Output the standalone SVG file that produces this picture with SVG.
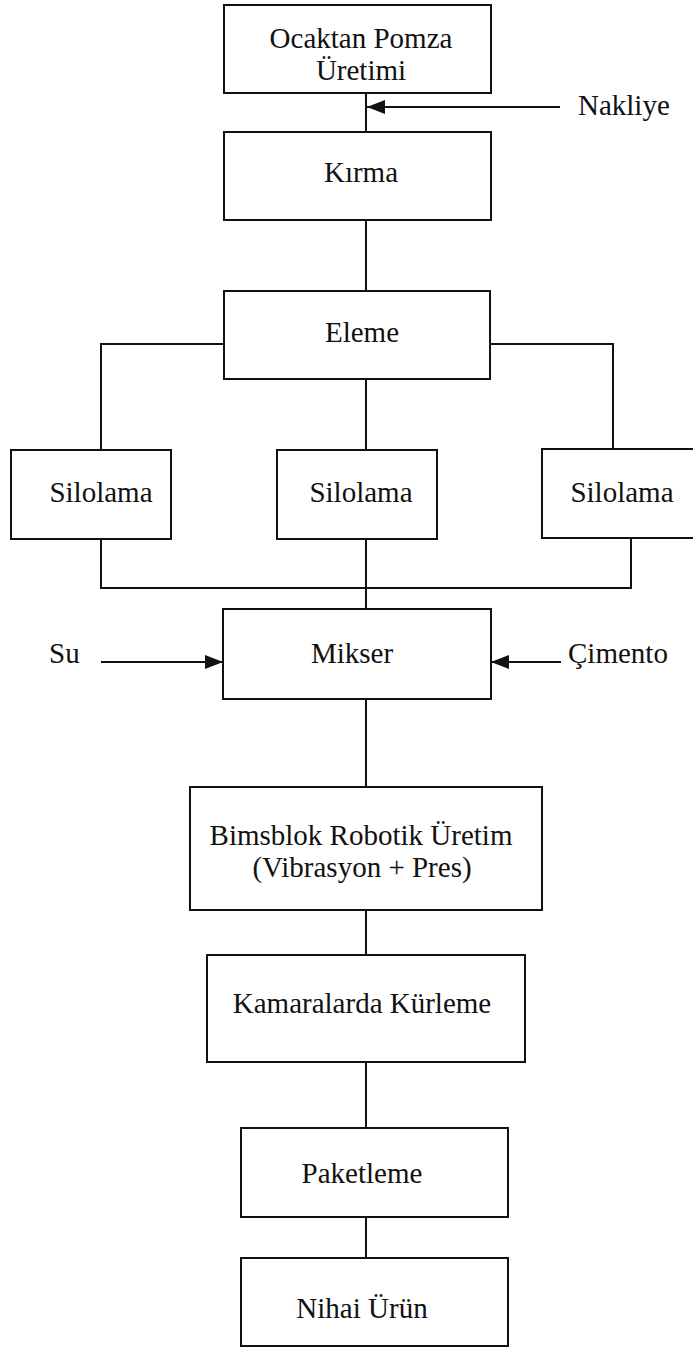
<svg xmlns="http://www.w3.org/2000/svg" width="693" height="1348" viewBox="0 0 693 1348">
<style>
  .box { fill: #ffffff; stroke: #111111; stroke-width: 2; }
  .ln { fill: none; stroke: #111111; stroke-width: 2; }
  .t { font-family: "Liberation Serif", "Times New Roman", serif; font-size: 29px; fill: #111111; }
  .c { text-anchor: middle; }
</style>
<defs>
  <marker id="ah" markerUnits="userSpaceOnUse" markerWidth="20" markerHeight="16" refX="18" refY="7" orient="auto">
    <path d="M0,0 L18,7 L0,14 Z" fill="#111111"/>
  </marker>
</defs>
<rect width="693" height="1348" fill="#ffffff"/>
<g id="connectors">
  <line class="ln" x1="366" y1="93" x2="366" y2="132"/>
  <line class="ln" x1="560" y1="107" x2="367" y2="107" marker-end="url(#ah)"/>
  <line class="ln" x1="366" y1="220" x2="366" y2="291"/>
  <polyline class="ln" points="224,344 101,344 101,450"/>
  <polyline class="ln" points="490,344 613,344 613,449"/>
  <line class="ln" x1="366" y1="379" x2="366" y2="450"/>
  <polyline class="ln" points="101,539 101,588 631,588 631,538"/>
  <line class="ln" x1="366" y1="539" x2="366" y2="609"/>
  <line class="ln" x1="101" y1="662" x2="223" y2="662" marker-end="url(#ah)"/>
  <line class="ln" x1="561" y1="662" x2="491" y2="662" marker-end="url(#ah)"/>
  <line class="ln" x1="366" y1="699" x2="366" y2="787"/>
  <line class="ln" x1="366" y1="910" x2="366" y2="955"/>
  <line class="ln" x1="366" y1="1062" x2="366" y2="1128"/>
  <line class="ln" x1="366" y1="1217" x2="366" y2="1258"/>
</g>
<g id="n-ocak">
  <rect class="box" x="224" y="5" width="267" height="88"/>
  <text class="t c" x="361" y="48">Ocaktan Pomza</text>
  <text class="t c" x="361" y="80">Üretimi</text>
</g>
<g id="n-nakliye">
  <text class="t" x="578" y="115">Nakliye</text>
</g>
<g id="n-kirma">
  <rect class="box" x="224" y="132" width="267" height="88"/>
  <text class="t c" x="361" y="182">Kırma</text>
</g>
<g id="n-eleme">
  <rect class="box" x="224" y="291" width="266" height="88"/>
  <text class="t c" x="362" y="342">Eleme</text>
</g>
<g id="n-silo1">
  <rect class="box" x="11" y="450" width="160" height="89"/>
  <text class="t c" x="101" y="502">Silolama</text>
</g>
<g id="n-silo2">
  <rect class="box" x="277" y="450" width="160" height="89"/>
  <text class="t c" x="361" y="502">Silolama</text>
</g>
<g id="n-silo3">
  <rect class="box" x="542" y="449" width="153" height="89"/>
  <text class="t c" x="622" y="502">Silolama</text>
</g>
<g id="n-su">
  <text class="t" x="49" y="663">Su</text>
</g>
<g id="n-mikser">
  <rect class="box" x="223" y="609" width="268" height="90"/>
  <text class="t c" x="352" y="663">Mikser</text>
</g>
<g id="n-cimento">
  <text class="t" x="568" y="663">Çimento</text>
</g>
<g id="n-bims">
  <rect class="box" x="190" y="787" width="352" height="123"/>
  <text class="t c" x="361" y="845">Bimsblok Robotik Üretim</text>
  <text class="t c" x="362" y="877">(Vibrasyon + Pres)</text>
</g>
<g id="n-kamara">
  <rect class="box" x="207" y="955" width="318" height="107"/>
  <text class="t c" x="362" y="1013">Kamaralarda Kürleme</text>
</g>
<g id="n-paket">
  <rect class="box" x="241" y="1128" width="267" height="89"/>
  <text class="t c" x="362" y="1183">Paketleme</text>
</g>
<g id="n-nihai">
  <rect class="box" x="241" y="1258" width="267" height="88"/>
  <text class="t c" x="362" y="1318">Nihai Ürün</text>
</g>
</svg>
